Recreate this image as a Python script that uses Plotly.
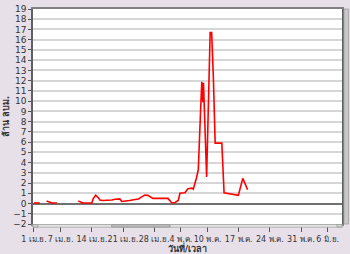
import plotly.graph_objects as go

# ---- data ----
dates = [
    "2011-04-01 00:00", "2011-04-01 12:00", "2011-04-02 00:00", "2011-04-02 08:00", "2011-04-02 12:00",
    "2011-04-03 20:00", "2011-04-04 08:00", "2011-04-04 16:00", "2011-04-05 00:00", "2011-04-05 12:00",
    "2011-04-06 04:00", "2011-04-06 12:00",
    "2011-04-10 23:00", "2011-04-11 12:00", "2011-04-12 00:00", "2011-04-13 00:00", "2011-04-14 00:00",
    "2011-04-14 07:00", "2011-04-14 21:00", "2011-04-15 12:00", "2011-04-15 19:00", "2011-04-16 12:00",
    "2011-04-17 12:00", "2011-04-18 12:00", "2011-04-19 05:00", "2011-04-20 07:00", "2011-04-20 17:00",
    "2011-04-21 19:00", "2011-04-22 12:00", "2011-04-23 17:00", "2011-04-24 12:00", "2011-04-25 00:00",
    "2011-04-25 22:00", "2011-04-26 14:00", "2011-04-27 17:00", "2011-04-29 00:00", "2011-05-01 02:00",
    "2011-05-02 00:00", "2011-05-02 17:00", "2011-05-03 10:00", "2011-05-03 19:00", "2011-05-04 22:00",
    "2011-05-05 14:00", "2011-05-06 12:00", "2011-05-06 19:00", "2011-05-07 12:00", "2011-05-07 22:00",
    "2011-05-08 12:00", "2011-05-08 17:00", "2011-05-08 22:00", "2011-05-09 02:00", "2011-05-09 19:00",
    "2011-05-10 14:00", "2011-05-10 22:00", "2011-05-11 07:00", "2011-05-11 17:00", "2011-05-13 05:00",
    "2011-05-13 17:00", "2011-05-15 10:00", "2011-05-16 22:00", "2011-05-17 22:00", "2011-05-19 00:00",
]
volume = [
    0.05, 0.05, 0.05, 0.05, None,
    0.25, 0.15, 0.05, 0.05, 0.05,
    0.05, None,
    0.25, 0.15, 0.05, 0.05, 0.05,
    0.45, 0.82, 0.55, 0.35, 0.3,
    0.3, 0.35, 0.42, 0.45, 0.2,
    0.3, 0.3, 0.4, 0.45, 0.6,
    0.82, 0.8, 0.5, 0.5, 0.5,
    0.05, 0.1, 0.3, 1.0, 1.05,
    1.45, 1.5, 1.4, 2.5, 3.3,
    9.8, 11.9, 9.9, 11.8, 2.6,
    16.7, 16.7, 12.5, 5.9, 5.9,
    1.05, 0.95, 0.8, 2.46, 1.35,
]

tick_dates = ["2011-04-01", "2011-04-07", "2011-04-14", "2011-04-21", "2011-04-28", "2011-05-04",
              "2011-05-10", "2011-05-17", "2011-05-24", "2011-05-31", "2011-06-06"]
tick_labels = ["1 เม.ย.", "7 เม.ย.", "14 เม.ย.", "21 เม.ย.", "28 เม.ย.", "4 พ.ค.",
               "10 พ.ค.", "17 พ.ค.", "24 พ.ค.", "31 พ.ค.", "6 มิ.ย."]
y_ticks = list(range(-2, 20))

fig = go.Figure()
fig.add_trace(go.Scatter(
    x=dates, y=volume, mode="lines", connectgaps=False,
    line=dict(color="#FF0000", width=1.6), showlegend=False,
))

font_family = "Tahoma, 'DejaVu Sans', 'Noto Sans', sans-serif"
fig.update_layout(
    width=350, height=254,
    margin=dict(l=33, r=8, t=4, b=28, pad=0),
    paper_bgcolor="#E8E0E8",
    plot_bgcolor="#FFFFFF",
    font=dict(family=font_family, size=8, color="#333333"),
    xaxis=dict(
        type="date",
        range=["2011-03-31 18:40", "2011-06-09 05:00"],
        tickvals=tick_dates, ticktext=tick_labels, tickangle=0,
        ticks="outside", ticklen=6, tickwidth=1, tickcolor="#555555",
        showgrid=False, showline=True, mirror=True, linecolor="#808080", linewidth=2,
        tickfont=dict(size=8, color="#333333"),
        title=dict(text="<b>วันที่/เวลา</b>", standoff=0, font=dict(size=9, color="#333333")),
        zeroline=False,
    ),
    yaxis=dict(
        range=[-2, 19],
        tickvals=y_ticks,
        ticks="outside", ticklen=3, tickwidth=1, tickcolor="#555555",
        showgrid=True, gridcolor="#D6D6D6", gridwidth=1.5,
        zeroline=True, zerolinecolor="#707070", zerolinewidth=1.5,
        showline=True, mirror=True, linecolor="#606060", linewidth=1.5,
        tickfont=dict(size=9, color="#333333"),
        title=dict(text="<b>ล้าน ลบม.</b>", standoff=2, font=dict(size=9, color="#333333")),
    ),
    shapes=[
        # horizontal scrollbar track
        dict(type="rect", xref="paper", yref="paper", x0=0, x1=1, y0=-0.0145, y1=-0.003,
             fillcolor="#EDEDED", line=dict(color="#B0B0B0", width=1), layer="above"),
        # scrollbar thumb
        dict(type="rect", xref="paper", yref="paper", x0=0.2547, x1=0.4434, y0=-0.014, y1=-0.0035,
             fillcolor="#C4C4C4", line=dict(color="#9A9A9A", width=1), layer="above"),
        # left button
        dict(type="rect", xref="paper", yref="paper", x0=0, x1=0.016, y0=-0.0145, y1=-0.003,
             fillcolor="#DCDCDC", line=dict(color="#A0A0A0", width=1), layer="above"),
        # right button
        dict(type="rect", xref="paper", yref="paper", x0=0.984, x1=1.0, y0=-0.0145, y1=-0.003,
             fillcolor="#DCDCDC", line=dict(color="#A0A0A0", width=1), layer="above"),
        # vertical scrollbar at right
        dict(type="rect", xref="paper", yref="paper", x0=1.0066, x1=1.0215, y0=0, y1=1,
             fillcolor="#C8C8C8", line=dict(color="#A8A8A8", width=1), layer="above"),
    ],
)

fig.write_html("out.html")
